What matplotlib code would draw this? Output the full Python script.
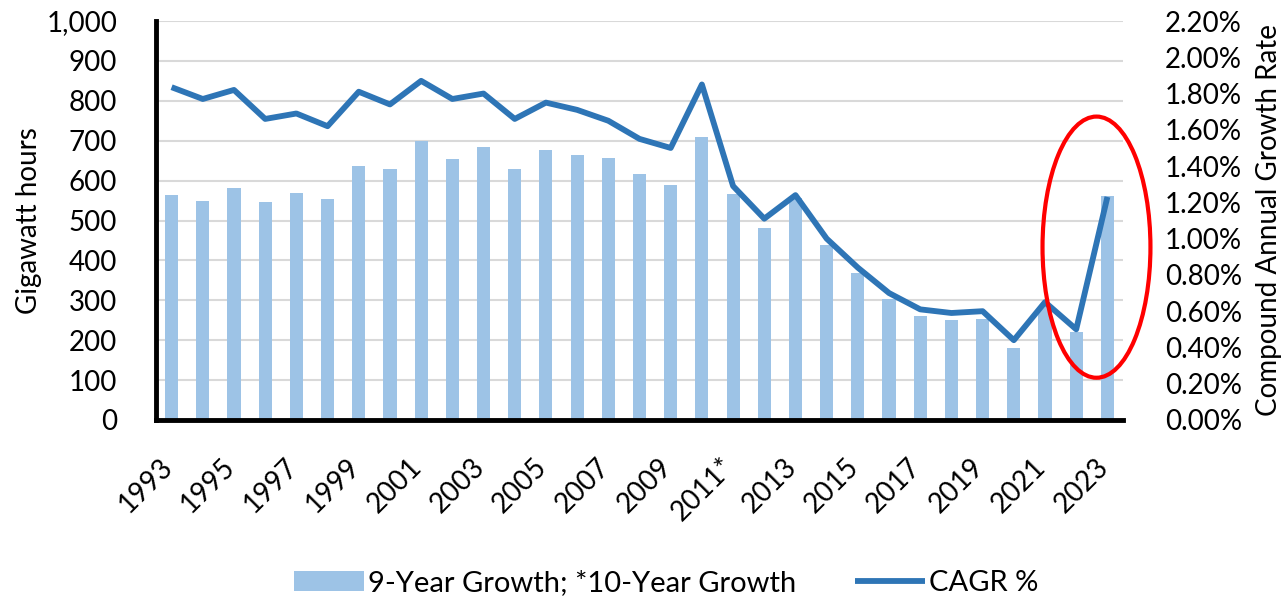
import numpy as np
import matplotlib
matplotlib.use("Agg")
import matplotlib.pyplot as plt
import matplotlib.transforms as mtransforms
from matplotlib.patches import Ellipse
from matplotlib.ticker import FuncFormatter, MultipleLocator

plt.rcParams['font.family'] = ['Lato', 'DejaVu Sans']

years = [str(y) for y in range(1993, 2024)]
years[2011 - 1993] = "2011*"
growth_gwh = [563, 550, 581, 546, 568, 553, 636, 629, 699, 654, 684, 629, 676, 664, 656, 616,
              590, 710, 567, 482, 556, 439, 369, 303, 261, 251, 253, 181, 286, 221, 562]
cagr_pct = [1.835, 1.77, 1.82, 1.66, 1.69, 1.62, 1.81, 1.74, 1.87, 1.77, 1.80, 1.66, 1.75, 1.71,
            1.65, 1.55, 1.50, 1.85, 1.29, 1.11, 1.24, 1.00, 0.84, 0.70, 0.61, 0.59, 0.60, 0.44,
            0.65, 0.50, 1.23]

bar_color = "#9DC3E6"
line_color = "#2E75B6"

fig = plt.figure(figsize=(12.85, 6.05), dpi=100)
ax = fig.add_axes([156 / 1285, 185 / 605, 967 / 1285, 399 / 605])
x = np.arange(len(years))

bars = ax.bar(x, growth_gwh, width=0.42, color=bar_color, zorder=2,
              label="9-Year Growth; *10-Year Growth")
ax.set_xlim(-0.5, len(years) - 0.5)
ax.set_ylim(0, 1000)
ax.yaxis.set_major_locator(MultipleLocator(100))
ax.yaxis.set_major_formatter(FuncFormatter(lambda v, p: f"{v:,.0f}"))
ax.grid(axis="y", color="#D9D9D9", linewidth=1.5, zorder=0)
ax.set_axisbelow(True)
ax.set_xticks(x[::2])
ax.set_xticklabels(years[::2], rotation=45, ha="right")
ax.tick_params(axis="both", length=0, labelsize=20)
ax.tick_params(axis="x", pad=24)
ax.tick_params(axis="y", pad=28)
shift = mtransforms.ScaledTranslation(6 / 100, 0, fig.dpi_scale_trans)
for lbl in ax.get_xticklabels():
    lbl.set_transform(lbl.get_transform() + shift)
ax.set_ylabel("Gigawatt hours", fontsize=20, labelpad=3)
for s in ["top", "right"]:
    ax.spines[s].set_visible(False)
ax.spines["left"].set_linewidth(3.5)
ax.spines["bottom"].set_linewidth(3.5)

ax2 = ax.twinx()
line, = ax2.plot(x, cagr_pct, color=line_color, linewidth=4.2, zorder=3, label="CAGR %",
                 solid_capstyle="butt")
ax2.set_ylim(0, 2.2)
ax2.yaxis.set_major_locator(MultipleLocator(0.2))
ax2.yaxis.set_major_formatter(FuncFormatter(lambda v, p: f"{v:.2f}%"))
ax2.tick_params(axis="y", length=0, labelsize=20, pad=30)
ax2.set_ylabel("Compound Annual Growth Rate", fontsize=20, labelpad=10)
for s in ax2.spines.values():
    s.set_visible(False)

ell = Ellipse((29.65, 0.953), width=3.46, height=1.44, fill=False, edgecolor="#FF0000",
              linewidth=3, zorder=5, clip_on=False)
ax2.add_patch(ell)

fig.legend([bars, line], ["9-Year Growth; *10-Year Growth", "CAGR %"], loc="center",
           bbox_to_anchor=(666 / 1285, 22 / 605), ncol=2, frameon=False, fontsize=21,
           handlelength=2.4, handletextpad=0.15, columnspacing=2.0)

fig.savefig("out.png", dpi=100)
